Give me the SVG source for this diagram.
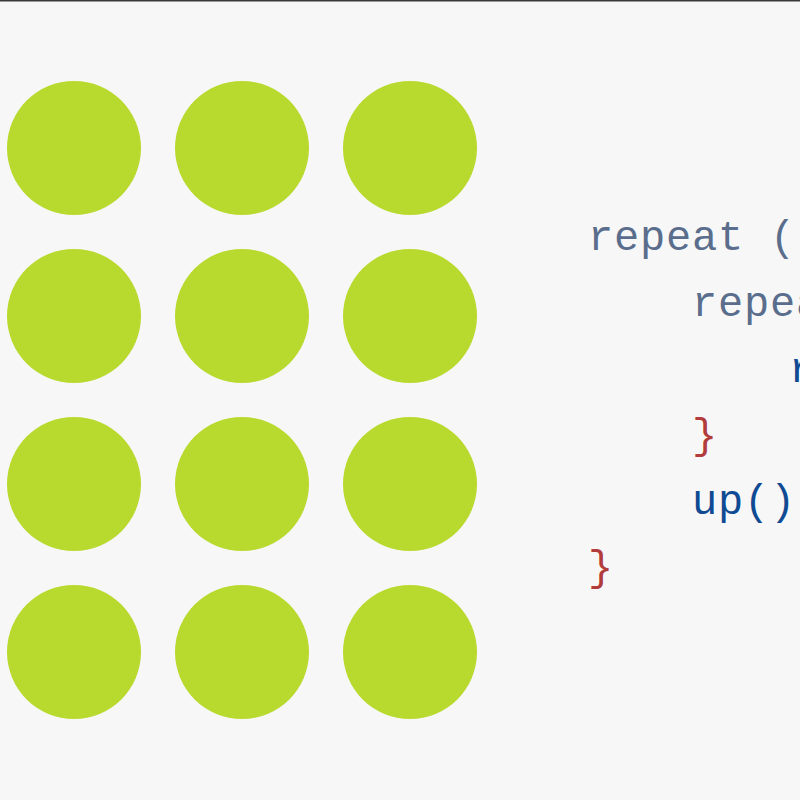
<svg xmlns="http://www.w3.org/2000/svg" width="800" height="800" viewBox="0 0 800 800">
  <style>
    .dot { fill: #b8d92e; }
    .code { font-family: "Liberation Mono", "Courier New", monospace; font-size: 42px; letter-spacing: 0.8px; }
    .kw { fill: #5a6d8c; }
    .fn { fill: #0f4a93; }
    .br { fill: #b23b3b; }
  </style>
  <rect x="0" y="0" width="800" height="800" fill="#f7f7f7"/>
  <rect x="0" y="0" width="800" height="1.5" fill="#3a3a3a"/>
  <g id="dots">
    <circle class="dot" cx="74" cy="148" r="67"/>
    <circle class="dot" cx="242" cy="148" r="67"/>
    <circle class="dot" cx="410" cy="148" r="67"/>
    <circle class="dot" cx="74" cy="316" r="67"/>
    <circle class="dot" cx="242" cy="316" r="67"/>
    <circle class="dot" cx="410" cy="316" r="67"/>
    <circle class="dot" cx="74" cy="484" r="67"/>
    <circle class="dot" cx="242" cy="484" r="67"/>
    <circle class="dot" cx="410" cy="484" r="67"/>
    <circle class="dot" cx="74" cy="652" r="67"/>
    <circle class="dot" cx="242" cy="652" r="67"/>
    <circle class="dot" cx="410" cy="652" r="67"/>
  </g>
  <g id="code" class="code">
    <text class="kw" x="588" y="250">repeat (</text>
    <text class="kw" x="692" y="316">repeat</text>
    <text class="fn" x="789" y="382">r</text>
    <text class="br" x="692" y="448">}</text>
    <text class="fn" x="692" y="514">up()</text>
    <text class="br" x="588" y="580">}</text>
  </g>
</svg>
